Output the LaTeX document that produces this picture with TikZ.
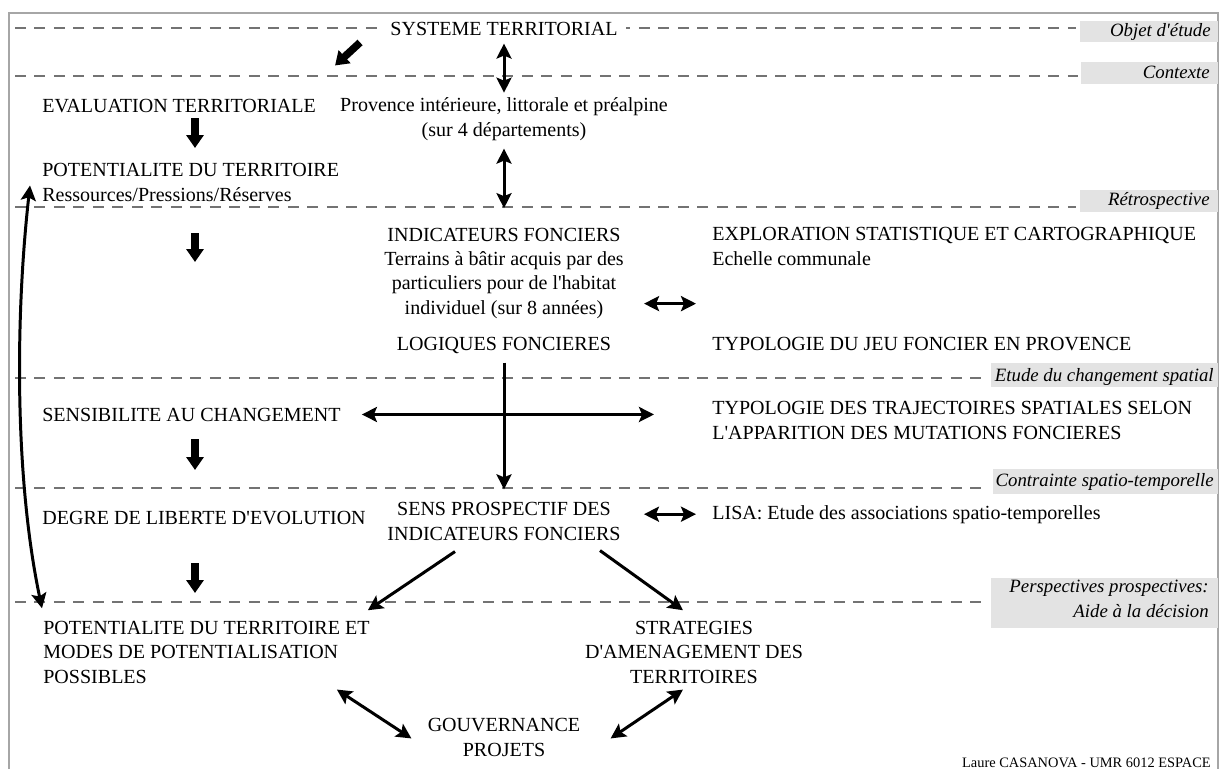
\documentclass[tikz,border=0pt]{standalone}
\usepackage{fontspec}
\setmainfont{Liberation Serif}[Ligatures=TeXOff]
\usetikzlibrary{arrows.meta,calc,positioning}

\newcommand{\bodysize}{\fontsize{11.4}{13.7}\selectfont}
\newcommand{\stagesize}{\fontsize{10.7}{13.7}\selectfont\itshape}
\newcommand{\creditsize}{\fontsize{8.2}{10}\selectfont}

\tikzset{
  txt/.style={inner sep=0pt, font=\bodysize},
  stage/.style={inner sep=0pt, font=\stagesize, align=right, anchor=base east},
  stagebox/.style={fill=black!11},
  sep/.style={draw=black!55, line width=0.9pt, dash pattern=on 0.22cm off 0.17cm},
  frame/.style={draw=black!35, line width=1.1pt},
  link/.style={line width=1.7pt, -{Stealth[length=0.3cm,width=0.3cm,inset=0.06cm]}},
  dbl/.style={line width=1.7pt, {Stealth[length=0.3cm,width=0.3cm,inset=0.06cm]}-{Stealth[length=0.3cm,width=0.3cm,inset=0.06cm]}},
  fat/.style={line width=0.15cm, -{Triangle[length=0.26cm,width=0.34cm]}},
}

\begin{document}
\begin{tikzpicture}[x=0.02cm, y=-0.02cm]
\useasboundingbox (0,0) rectangle (1222,769);

% frame and dashed bands
\draw[frame] (9,769) -- (9,13) -- (1218,13) -- (1218,769);
\foreach \y/\e in {28/1076, 76/1078, 207/1076, 378/982, 488/982, 602/982}
  \draw[sep] (15,\y) -- (\e,\y);

% band labels on the right (multi-line nodes sit on their last line)
\fill[stagebox] (1080,21) rectangle (1218,42);
\fill[stagebox] (1081,62) rectangle (1218,84);
\fill[stagebox] (1080,190) rectangle (1218,212);
\fill[stagebox] (991,363) rectangle (1218,387);
\fill[stagebox] (993,469) rectangle (1218,494);
\fill[stagebox] (991,578) rectangle (1218,628);
\node[stage] (objet) at (1211,36) {Objet d\textquotesingle étude};
\node[stage] (ctx) at (1210,78) {Contexte};
\node[stage] (retro) at (1210,205) {Rétrospective};
\node[stage] (etude) at (1214,381) {Etude du changement spatial};
\node[stage] (contr) at (1214,486) {Contrainte spatio-temporelle};
\node[stage] (persp) at (1209,617) {Perspectives prospectives:\\Aide à la décision};

% texts
\node[txt, fill=white, inner xsep=0.16cm, inner ysep=0.04cm, anchor=base] (sys) at (504,35) {SYSTEME TERRITORIAL};
\node[txt, anchor=base west] (eval) at (42,112) {EVALUATION TERRITORIALE};
\node[txt, anchor=base, align=center] (prov) at (504,136) {Provence intérieure, littorale et préalpine\\(sur 4 départements)};
\node[txt, anchor=base west, align=left] (pot) at (42,201) {POTENTIALITE DU TERRITOIRE\\Ressources/Pressions/Réserves};
\node[txt, anchor=base, align=center] (ind) at (504,314) {INDICATEURS FONCIERS\\Terrains à bâtir acquis par des\\particuliers pour de l\textquotesingle habitat\\individuel (sur 8 années)};
\node[txt, anchor=base] (logi) at (504,350) {LOGIQUES FONCIERES};
\node[txt, anchor=base west, align=left] (expl) at (712,265) {EXPLORATION STATISTIQUE ET CARTOGRAPHIQUE\\Echelle communale};
\node[txt, anchor=base west] (jeu) at (712,350) {TYPOLOGIE DU JEU FONCIER EN PROVENCE};
\node[txt, anchor=base west] (sens) at (42,421) {SENSIBILITE AU CHANGEMENT};
\node[txt, anchor=base west, align=left] (traj) at (712,439) {TYPOLOGIE DES TRAJECTOIRES SPATIALES SELON\\L\textquotesingle APPARITION DES MUTATIONS FONCIERES};
\node[txt, anchor=base west] (deg) at (42,524) {DEGRE DE LIBERTE D\textquotesingle EVOLUTION};
\node[txt, anchor=base, align=center] (prosp) at (504,540) {SENS PROSPECTIF DES\\INDICATEURS FONCIERS};
\node[txt, anchor=base west] (lisa) at (712,519) {LISA: Etude des associations spatio-temporelles};
\node[txt, anchor=base west, align=left] (potm) at (43,683) {POTENTIALITE DU TERRITOIRE ET\\MODES DE POTENTIALISATION\\POSSIBLES};
\node[txt, anchor=base, align=center] (strat) at (694,683) {STRATEGIES\\D\textquotesingle AMENAGEMENT DES\\TERRITOIRES};
\node[txt, anchor=base, align=center] (gouv) at (504,756) {GOUVERNANCE\\PROJETS};
\node[inner sep=0pt, font=\creditsize, anchor=base east] (credit) at (1211,767) {Laure CASANOVA - UMR 6012 ESPACE};

% flow markers of the left column
\coordinate (col) at (195,0);
\draw[fat] ($(sys.west)+(-22,14)$) -- ($(sys.west)+(-47,37)$);
\foreach \a/\b in {118/148, 233/262, 439/470, 563/593}
  \draw[fat] (col |- 0,\a) -- (col |- 0,\b);

% central column
\draw[dbl] ($(sys.south)+(0,6)$) -- ($(prov.north)+(0,-5)$);
\draw[dbl] ($(prov.south)+(0,8)$) -- ($(ind.north)+(0,-20)$);
\draw[link] ($(logi.south)+(0,9)$) -- ($(prosp.north)+(0,-13)$);

% horizontal links
\coordinate (indl) at ($(ind.south east)+(20,-15)$);
\draw[dbl] (indl) -- ($(indl -| expl.west)+(-16,0)$);
\draw[dbl] ($(sens.east)+(21,0)$) -- ($(sens.east -| traj.west)+(-58,0)$);
\draw[dbl] ($(lisa.west -| prosp.east)+(23,0)$) -- ($(lisa.west)+(-16,0)$);

% towards the decision
\draw[link] ($(prosp.south)+(-49,11)$) -- ($(potm.north east)+(-2,-11)$);
\draw[link] ($(prosp.south)+(96,10)$) -- ($(strat.north)+(-11,-11)$);
\draw[dbl] ($(potm.south east)+(-33,6)$) -- ($(gouv.west)+(-16,1)$);
\draw[dbl] ($(strat.south)+(-11,6)$) -- ($(gouv.east)+(30,1)$);

% loop between the two potentialities
\draw[dbl] ($(pot.west)+(-12,3)$) .. controls (15,320) and (15,480) .. ($(potm.north west)+(-1,-13)$);
\end{tikzpicture}
\end{document}
